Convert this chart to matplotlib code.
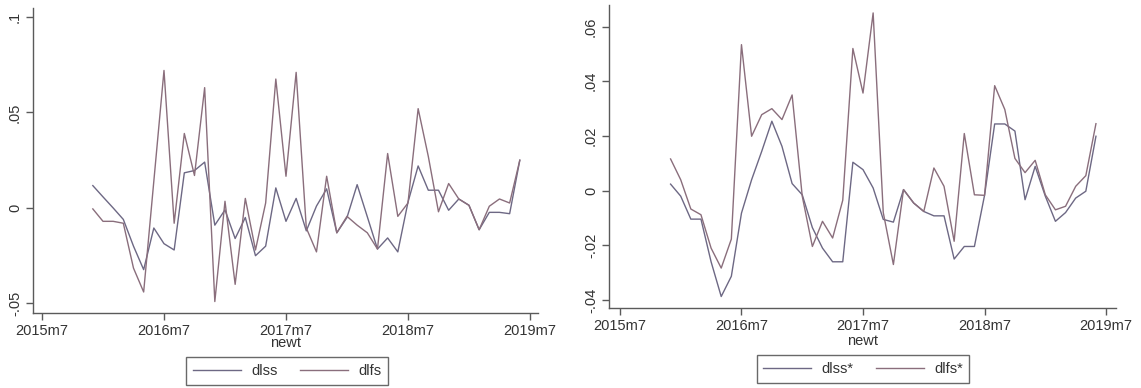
import numpy as np
import matplotlib
matplotlib.use("Agg")
import matplotlib.pyplot as plt
from matplotlib.lines import Line2D

plt.rcParams['font.family'] = ['Liberation Sans', 'DejaVu Sans']

# monthly observations 2015m12 .. 2019m6, counted in months since 2015m7
months = np.arange(5, 48)
tick_pos = [0, 12, 24, 36, 48]
tick_labels = ["2015m7", "2016m7", "2017m7", "2018m7", "2019m7"]

# left panel: first differences of logs
dlss = [0.0117, 0.0058, 0.0000, -0.0060, -0.0200, -0.0323, -0.0105, -0.0187, -0.0220, 0.0184,
        0.0196, 0.0240, -0.0090, -0.0010, -0.0160, -0.0050, -0.0250, -0.0200, 0.0105, -0.0070,
        0.0050, -0.0120, 0.0010, 0.0100, -0.0130, -0.0050, 0.0122, -0.0046, -0.0215, -0.0157,
        -0.0230, 0.0030, 0.0220, 0.0093, 0.0093, -0.0012, 0.0047, 0.0014, -0.0114, -0.0023,
        -0.0023, -0.0030, 0.0250]
dlfs = [-0.0005, -0.0070, -0.0070, -0.0080, -0.0315, -0.0440, 0.0140, 0.0720, -0.0080, 0.0390,
        0.0170, 0.0630, -0.0490, 0.0035, -0.0400, 0.0050, -0.0220, 0.0026, 0.0675, 0.0166,
        0.0710, -0.0105, -0.0230, 0.0166, -0.0130, -0.0044, -0.0090, -0.0130, -0.0215, 0.0285,
        -0.0044, 0.0026, 0.0520, 0.0270, -0.0020, 0.0128, 0.0047, 0.0014, -0.0114, 0.0009,
        0.0047, 0.0026, 0.0250]

# right panel: adjusted series
dlss_star = [0.0024, -0.0020, -0.0104, -0.0104, -0.0260, -0.0387, -0.0313, -0.0082, 0.0040, 0.0144,
             0.0254, 0.0162, 0.0026, -0.0015, -0.0135, -0.0210, -0.0260, -0.0260, 0.0104, 0.0077,
             0.0010, -0.0105, -0.0115, 0.0004, -0.0045, -0.0076, -0.0092, -0.0092, -0.0250, -0.0204,
             -0.0204, -0.0017, 0.0244, 0.0244, 0.0218, -0.0033, 0.0089, -0.0020, -0.0112, -0.0080,
             -0.0027, -0.0002, 0.0199]
dlfs_star = [0.0116, 0.0040, -0.0067, -0.0088, -0.0210, -0.0283, -0.0177, 0.0534, 0.0199, 0.0278,
             0.0300, 0.0260, 0.0350, -0.0020, -0.0204, -0.0112, -0.0173, -0.0035, 0.0520, 0.0357,
             0.0650, -0.0080, -0.0270, 0.0004, -0.0045, -0.0076, 0.0083, 0.0016, -0.0185, 0.0209,
             -0.0015, -0.0017, 0.0384, 0.0297, 0.0118, 0.0066, 0.0111, -0.0015, -0.0070, -0.0057,
             0.0016, 0.0055, 0.0245]

c_ss = "#6d6884"
c_fs = "#8a6e7c"
axis_col = "#5a5a5a"
text_col = "#333333"

W, H = 1141, 388
fig = plt.figure(figsize=(W / 100, H / 100), dpi=100)
fig.patch.set_facecolor("white")


def px_axes(x0, x1, y0, y1):
    return fig.add_axes([x0 / W, 1 - y1 / H, (x1 - x0) / W, (y1 - y0) / H])


def style(ax, yt, ytl, xlim, ylim):
    ax.set_xlim(*xlim)
    ax.set_ylim(*ylim)
    for s in ("top", "right"):
        ax.spines[s].set_visible(False)
    for s in ("left", "bottom"):
        ax.spines[s].set_color(axis_col)
        ax.spines[s].set_linewidth(1.0)
    ax.set_xticks(tick_pos)
    ax.set_xticklabels(tick_labels)
    ax.set_yticks(yt)
    ax.set_yticklabels(ytl, rotation=90, va="center")
    ax.tick_params(direction="out", length=5, width=1.0, color=axis_col,
                   labelcolor=text_col, labelsize=10.5, pad=3)


def legend(cx, cy, labels):
    handles = [Line2D([], [], color=c_ss, lw=1.0), Line2D([], [], color=c_fs, lw=1.0)]
    leg = fig.legend(handles, labels, loc="center", bbox_to_anchor=(cx / W, 1 - cy / H),
                     ncol=2, frameon=True, fancybox=False, fontsize=10.5,
                     handlelength=3.3, columnspacing=1.5, handletextpad=0.7,
                     borderpad=0.45, borderaxespad=0)
    leg.get_frame().set_edgecolor("#444444")
    leg.get_frame().set_linewidth(1.0)
    for t in leg.get_texts():
        t.set_color(text_col)


# left panel
ax1 = px_axes(33, 538, 8, 313)
ax1.plot(months, dlss, color=c_ss, lw=1.0)
ax1.plot(months, dlfs, color=c_fs, lw=1.0)
style(ax1, [-0.05, 0, 0.05, 0.1], ["-.05", "0", ".05", ".1"],
      (-0.885, 48.79), (-0.055, 0.1047))
fig.text(285.5 / W, 1 - 343 / H, "newt", ha="center", va="center",
         fontsize=10.5, color=text_col)
legend(287, 371, ["dlss", "dlfs"])

# right panel
ax2 = px_axes(609, 1116, 5, 308)
ax2.plot(months, dlss_star, color=c_ss, lw=1.0)
ax2.plot(months, dlfs_star, color=c_fs, lw=1.0)
style(ax2, [-0.04, -0.02, 0, 0.02, 0.04, 0.06], ["-.04", "-.02", "0", ".02", ".04", ".06"],
      (-1.08, 48.98), (-0.0429, 0.0679))
fig.text(862.5 / W, 1 - 341 / H, "newt", ha="center", va="center",
         fontsize=10.5, color=text_col)
legend(863, 369, ["dlss*", "dlfs*"])

fig.savefig("out.png", dpi=100, facecolor="white")
